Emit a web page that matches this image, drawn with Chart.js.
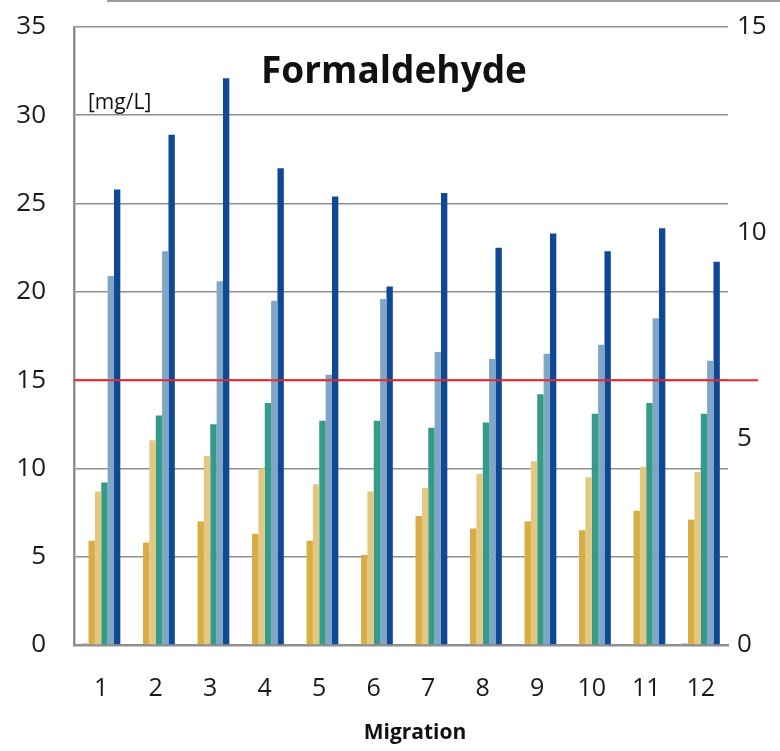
<!DOCTYPE html>
<html>
<head>
<meta charset="utf-8">
<script src="https://cdn.jsdelivr.net/npm/chart.js@4.4.1/dist/chart.umd.min.js"></script>
<style>
  html, body { margin: 0; padding: 0; background: #fff; }
  #wrap { width: 780px; height: 751px; position: relative; }
</style>
</head>
<body>
<div id="wrap"><canvas id="myChart" width="780" height="751"></canvas></div>
<script>
// values, left axis in mg/L
const migrations = ['1', '2', '3', '4', '5', '6', '7', '8', '9', '10', '11', '12'];
const seriesBase = [0.1, 0, 0, 0, 0, 0, 0, 0, 0, 0, 0, 0.1];
const seriesGold = [5.9, 5.8, 7.0, 6.3, 5.9, 5.1, 7.3, 6.6, 7.0, 6.5, 7.6, 7.1];
const seriesLightGold = [8.7, 11.6, 10.7, 10.0, 9.1, 8.7, 8.9, 9.7, 10.4, 9.5, 10.1, 9.8];
const seriesTeal = [9.2, 13.0, 12.5, 13.7, 12.7, 12.7, 12.3, 12.6, 14.2, 13.1, 13.7, 13.1];
const seriesLightBlue = [20.9, 22.3, 20.6, 19.5, 15.3, 19.6, 16.6, 16.2, 16.5, 17.0, 18.5, 16.1];
const seriesDarkBlue = [25.8, 28.9, 32.1, 27.0, 25.4, 20.3, 25.6, 22.5, 23.3, 22.3, 23.6, 21.7];
const limitValue = 15;

const leftTicks = [0, 5, 10, 15, 20, 25, 30, 35];
const rightTicks = [0, 5, 10, 15];

const fontFamily = '"Open Sans", Lato, sans-serif';
const gridGray = '#8f8f8f';

function mkSet(label, data, color) {
    return {
        label: label,
        data: data,
        backgroundColor: color,
        borderWidth: 0,
        yAxisID: 'y',
        categoryPercentage: 0.7,
        barPercentage: 1.0
    };
}

const overlay = {
    id: 'overlay',
    afterDatasetsDraw(chart) {
        const ctx = chart.ctx;
        const area = chart.chartArea;
        const ys = chart.scales.y;
        ctx.save();
        // limit line
        const yl = ys.getPixelForValue(limitValue);
        ctx.strokeStyle = '#f0262c';
        ctx.lineWidth = 2;
        ctx.beginPath();
        ctx.moveTo(area.left, yl);
        ctx.lineTo(area.right + 30, yl);
        ctx.stroke();
        ctx.restore();
    },
    afterDraw(chart) {
        const ctx = chart.ctx;
        const area = chart.chartArea;
        ctx.save();
        // frame edge at the very top
        ctx.strokeStyle = '#9a9a9a';
        ctx.lineWidth = 2;
        ctx.beginPath();
        ctx.moveTo(area.left + 33, 1);
        ctx.lineTo(780, 1);
        ctx.stroke();

        ctx.fillStyle = '#111';
        ctx.textBaseline = 'middle';
        ctx.textAlign = 'center';
        ctx.font = 'bold 37px ' + fontFamily;
        ctx.fillText('Formaldehyde', (area.left + area.right) / 2 - 7, 72);
        ctx.font = 'bold 21px ' + fontFamily;
        ctx.fillText('Migration', (area.left + area.right) / 2 + 14, 733);
        ctx.textAlign = 'left';
        ctx.font = '21px ' + fontFamily;
        ctx.fillText('[mg/L]', area.left + 14, 103);
        ctx.restore();
    }
};

function fitVertical(width) {
    return function(scale) {
        scale.width = width;
        scale.paddingTop = 0;
        scale.paddingBottom = 0;
    };
}

const config = {
    type: 'bar',
    data: {
        labels: migrations,
        datasets: [
            mkSet('base', seriesBase, '#b9c6d3'),
            mkSet('gold', seriesGold, '#d9ad45'),
            mkSet('light gold', seriesLightGold, '#e3c882'),
            mkSet('teal', seriesTeal, '#369a89'),
            mkSet('light blue', seriesLightBlue, '#7ea6c6'),
            mkSet('dark blue', seriesDarkBlue, '#0f4895')
        ]
    },
    options: {
        responsive: false,
        animation: false,
        layout: { padding: { top: 27, left: 0, right: 0, bottom: 0 } },
        plugins: {
            legend: { display: false },
            tooltip: { enabled: false }
        },
        scales: {
            x: {
                grid: { display: false, drawTicks: false },
                border: { display: true, color: gridGray, width: 2.5 },
                ticks: {
                    color: '#1a1a1a',
                    font: { family: fontFamily, size: 25 },
                    padding: 29,
                    maxRotation: 0
                },
                afterFit(scale) { scale.height = 106; }
            },
            y: {
                position: 'left',
                min: 0,
                max: 35,
                afterBuildTicks(scale) { scale.ticks = leftTicks.map(v => ({ value: v })); },
                grid: { color: gridGray, lineWidth: 1.6, drawTicks: false },
                border: { display: true, color: gridGray, width: 2.5 },
                ticks: {
                    color: '#1a1a1a',
                    font: { family: fontFamily, size: 26 },
                    padding: 28
                },
                afterFit: fitVertical(74)
            },
            y2: {
                position: 'right',
                display: true,
                min: 0,
                max: 15,
                afterBuildTicks(scale) { scale.ticks = rightTicks.map(v => ({ value: v })); },
                grid: { display: false, drawTicks: false },
                border: { display: false },
                ticks: {
                    color: '#1a1a1a',
                    font: { family: fontFamily, size: 26 },
                    padding: 9
                },
                afterFit: fitVertical(52)
            }
        }
    },
    plugins: [overlay]
};

const myChart = new Chart(document.getElementById('myChart'), config);
</script>
</body>
</html>
